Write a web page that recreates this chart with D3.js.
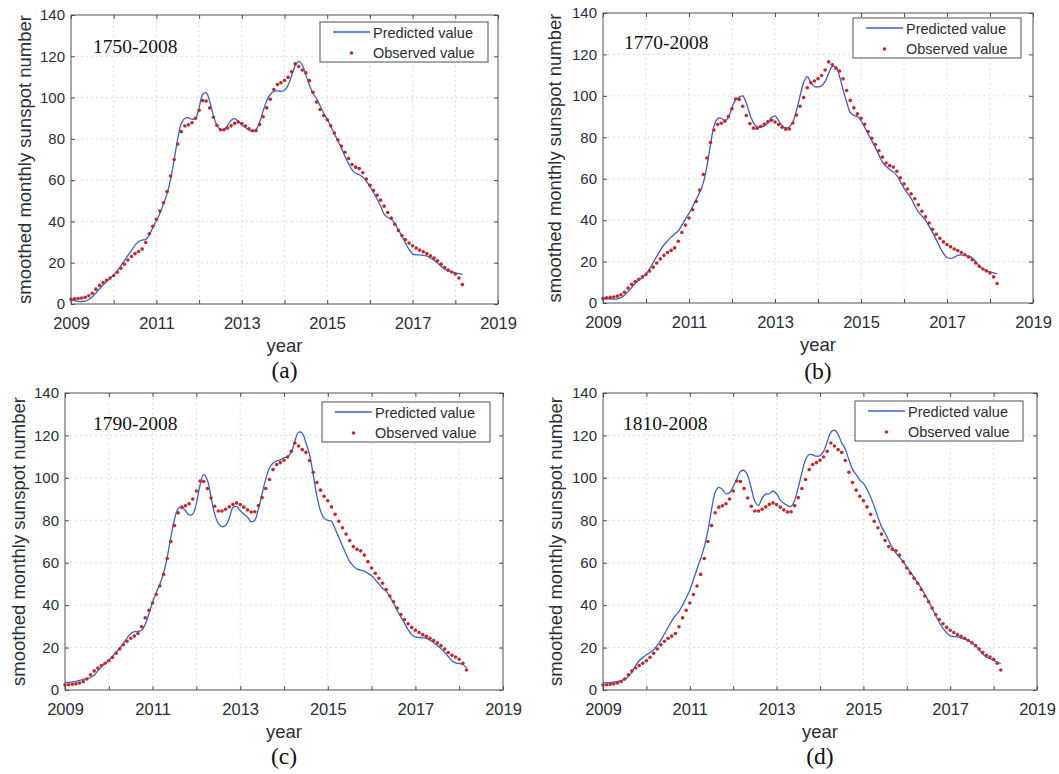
<!DOCTYPE html>
<html>
<head>
<meta charset="utf-8">
<script src="https://cdn.jsdelivr.net/npm/d3@7"></script>
<style>
  html, body { margin: 0; padding: 0; background: #ffffff; }
  svg { display: block; }
  .sans { font-family: Arial, "Liberation Sans", Helvetica, sans-serif; }
  .serif { font-family: "Times New Roman", "Liberation Serif", serif; }
</style>
</head>
<body>
<svg id="fig" width="1059" height="774"></svg>
<script>
// ---- data -------------------------------------------------------------
// monthly values, first point = January 2009
const startYear = 2009;
const yearTicks = [2009, 2010, 2011, 2012, 2013, 2014, 2015, 2016, 2017, 2018, 2019];
const yearLabels = [2009, 2011, 2013, 2015, 2017, 2019];
const valueTicks = [0, 20, 40, 60, 80, 100, 120, 140];

// 13-month smoothed monthly sunspot number (observed)
const observed = [
  2.3, 2.5, 2.7, 2.9, 3.3, 4.0, 5.2, 7.2, 9.0, 10.4, 11.5, 12.6,
  13.8, 15.4, 17.3, 19.3, 21.3, 23.0, 24.4, 25.4, 26.6, 29.8, 34.0, 37.6,
  41.0, 45.0, 49.0, 54.5, 62.0, 70.0, 77.5, 83.5, 86.2, 86.8, 87.8, 90.0,
  93.8, 98.5, 98.3, 95.0, 90.5, 86.6, 84.4, 84.4, 85.2, 86.3, 87.5, 88.2,
  87.4, 86.2, 84.9, 83.9, 84.0, 86.9, 90.7, 95.0, 99.2, 103.9, 106.3, 107.2,
  108.3, 109.8, 112.5, 116.4, 115.0, 113.3, 112.0, 108.2, 102.6, 97.8, 94.2, 91.3,
  89.2, 86.3, 82.8, 79.5, 76.5, 73.5, 70.5, 67.6, 66.3, 65.6, 63.6, 60.5,
  57.5, 55.0, 52.7, 50.3, 47.4, 44.3, 41.6, 38.6, 35.6, 33.2, 31.2, 29.5,
  28.2, 27.1, 26.1, 25.3, 24.4, 23.3, 22.2, 20.9, 19.3, 17.7, 16.4, 15.5,
  14.5, 12.6, 9.4
];

// predictions trained on 1750-2008
const predicted1750 = [
  2.0, 1.6, 1.3, 1.2, 1.4, 2.2, 3.5, 5.3, 7.3, 9.2, 10.9, 12.4,
  14.0, 16.0, 18.5, 21.0, 23.5, 26.0, 28.5, 30.3, 31.0, 31.2, 33.5, 37.0,
  40.3, 44.0, 48.5, 53.5, 60.5, 70.0, 80.0, 87.5, 90.0, 90.2, 89.5, 90.0,
  95.0, 101.5, 102.3, 98.0, 91.5, 86.5, 84.5, 84.5, 86.5, 89.0, 89.8, 88.5,
  86.8, 85.5, 84.3, 83.6, 84.5, 88.0, 93.5, 98.5, 101.5, 103.0, 103.2, 103.0,
  103.5, 106.0, 110.5, 115.5, 117.5, 115.8, 111.0, 106.0, 102.0, 99.5, 96.0, 92.5,
  89.5, 86.0, 82.5, 79.0, 75.5, 71.5, 68.0, 65.0, 63.3, 62.6, 61.5, 59.5,
  57.0, 54.0, 51.0, 47.5, 43.5, 42.0, 41.0, 39.0, 36.0, 33.0, 29.5, 26.5,
  24.3, 23.8, 23.8, 23.6, 23.2, 22.3, 21.2, 19.8, 18.3, 17.0, 16.2, 15.6,
  15.1, 14.7, 14.4
];

// predictions trained on 1770-2008
const predicted1770 = [
  2.0, 2.0, 1.9, 1.9, 2.0, 2.6, 3.8, 5.5, 7.5, 9.4, 11.0, 12.5,
  14.0, 16.5, 19.5, 22.5, 25.5, 28.0, 30.0, 31.8, 33.3, 34.8, 37.5, 40.5,
  43.3, 46.5, 50.0, 53.5, 58.0, 66.0, 76.5, 85.5, 89.0, 89.3, 88.0, 89.5,
  94.5, 98.0, 99.3, 100.0, 96.5, 91.0, 87.0, 85.0, 84.8, 85.5, 87.0, 89.5,
  90.3, 88.0, 85.5, 84.5, 85.0, 87.5, 93.0, 100.0, 106.5, 109.3, 106.5, 104.5,
  104.3, 104.8, 107.0, 111.0, 114.2, 114.0, 109.5, 103.0, 97.0, 92.0, 90.5, 90.0,
  88.0, 85.0, 81.5, 78.5, 75.0, 71.5, 68.0, 66.0, 64.5, 63.3, 61.5, 58.5,
  55.5, 53.0, 50.5, 47.0, 44.0, 42.0, 40.0, 37.0, 34.0, 30.5, 27.0, 24.0,
  22.0, 21.5, 22.0, 23.0, 23.2, 23.0, 22.6, 21.8, 20.0, 18.0, 16.5, 15.5,
  15.0, 14.5, 14.0
];

// predictions trained on 1790-2008
const predicted1790 = [
  3.5, 3.6, 3.8, 4.1, 4.5, 5.0, 5.4, 5.9, 7.0, 9.0, 11.0, 12.6,
  14.0, 15.8, 17.8, 19.8, 22.0, 24.5, 26.6, 27.5, 27.6, 28.2, 31.0, 36.0,
  41.5, 46.0, 50.0, 55.0, 62.5, 72.0, 80.5, 85.5, 86.3, 84.5, 82.5, 83.0,
  88.0, 96.5, 101.5, 99.0, 91.0, 83.0, 78.5, 77.0, 77.5, 81.0, 86.0, 86.5,
  84.5, 83.0, 81.5, 79.3, 80.0, 85.5, 92.5, 99.5, 104.5, 107.0, 108.0, 108.5,
  109.5, 110.0, 112.0, 117.5, 121.5, 121.0, 116.5, 111.0, 101.5, 91.5, 84.5, 81.0,
  80.0, 79.5, 76.0, 72.0, 68.0, 64.0, 60.5, 58.5, 57.0, 56.5, 56.0, 55.0,
  53.8, 52.0, 50.0, 48.0, 46.5, 44.0, 41.0, 37.5, 34.5, 31.5, 28.5, 26.0,
  25.0, 24.8, 24.6, 24.3, 23.5, 22.3, 21.0, 19.5, 17.8, 15.8, 13.8, 12.8,
  12.5, 12.0, 10.5
];

// predictions trained on 1810-2008
const predicted1810 = [
  3.5, 3.5, 3.6, 3.8, 4.0, 4.4, 5.0, 6.3, 8.5, 11.5, 13.8, 15.3,
  16.5, 17.7, 19.0, 21.0, 23.5, 26.5, 29.5, 32.5, 35.0, 37.0, 40.0, 43.5,
  47.0, 52.0, 57.0, 62.0, 67.5, 75.0, 85.0, 93.0, 95.5, 94.5, 92.5, 93.0,
  96.0, 99.5, 103.0, 103.5, 101.0, 95.0, 89.0, 87.0, 90.5, 92.3, 92.5, 93.8,
  92.5, 89.5, 88.0, 87.0, 86.5, 89.5, 95.5, 102.5, 108.5, 111.0, 110.8, 110.2,
  110.5, 112.5, 117.0, 121.5, 122.5, 120.5, 116.5, 113.5, 108.5, 104.0, 101.5, 99.0,
  97.5, 94.5, 91.0, 86.5, 81.5, 77.0, 74.0, 70.5, 67.0, 64.5, 62.5, 60.5,
  58.0, 55.5, 53.0, 50.5, 48.0, 45.0, 42.0, 38.5, 35.0, 31.8, 29.0, 27.0,
  25.5, 25.2, 25.0, 24.5, 24.0, 23.3, 22.3, 21.0, 19.0, 17.0, 15.5, 14.8,
  14.0, 13.2, 12.5
];

const panelTitles = ["1750-2008", "1770-2008", "1790-2008", "1810-2008"];
const panelTags = ["(a)", "(b)", "(c)", "(d)"];
const legendLabels = ["Predicted value", "Observed value"];
const xTitle = "year";
const yTitle = "smoothed monthly sunspot number";

// ---- layout & style ---------------------------------------------------
const panels = [
  { pred: predicted1750, box: [71, 498, 15, 304],  legend: [320, 22],  title: [93, 52.5],  ylab: 31,  tagY: 377.5, line: "#3a62d2" },
  { pred: predicted1770, box: [603, 1033, 13, 303], legend: [853, 18], title: [624, 48.5], ylab: 561, tagY: 378.5, line: "#4656cc" },
  { pred: predicted1790, box: [65, 503, 393, 690],  legend: [322, 402], title: [93, 430],  ylab: 25,  tagY: 763.5, line: "#3a62d2" },
  { pred: predicted1810, box: [603, 1037, 393, 690], legend: [855, 401], title: [623, 430], ylab: 562, tagY: 763.5, line: "#3a62d2" }
];

const axisColor = "#4b505a";
const textColor = "#2a2e36";
const gridColor = "#d9dee6";
const dotColor = "#bf2a2c";

const svg = d3.select("#fig");

const monthToYear = i => startYear + i / 12;

panels.forEach((p, k) => {
  const [x0, x1, y0, y1] = p.box;
  const x = d3.scaleLinear().domain([2009, 2019]).range([x0, x1]);
  const y = d3.scaleLinear().domain([0, 140]).range([y1, y0]);
  const g = svg.append("g");

  // grid
  g.append("g").selectAll("line").data(yearTicks.slice(1, -1)).join("line")
    .attr("x1", d => x(d)).attr("x2", d => x(d)).attr("y1", y0).attr("y2", y1)
    .attr("stroke", gridColor).attr("stroke-width", 1).attr("stroke-dasharray", "2,3");
  g.append("g").selectAll("line").data(valueTicks.slice(1, -1)).join("line")
    .attr("x1", x0).attr("x2", x1).attr("y1", d => y(d)).attr("y2", d => y(d))
    .attr("stroke", gridColor).attr("stroke-width", 1).attr("stroke-dasharray", "2,3");

  // predicted line
  const lineGen = d3.line()
    .x((d, i) => x(monthToYear(i)))
    .y(d => y(d))
    .curve(d3.curveCatmullRom.alpha(0.5));
  g.append("path").datum(p.pred)
    .attr("d", lineGen)
    .attr("fill", "none").attr("stroke", p.line).attr("stroke-width", 1.3);

  // observed dots
  g.append("g").selectAll("circle").data(observed).join("circle")
    .attr("cx", (d, i) => x(monthToYear(i)))
    .attr("cy", d => y(d))
    .attr("r", 1.8)
    .attr("fill", dotColor);

  // axes (ticks point inward)
  const fmtYear = d => yearLabels.includes(d) ? String(d) : "";
  const bottom = g.append("g").attr("transform", `translate(0,${y1})`)
    .call(d3.axisBottom(x).tickValues(yearTicks).tickFormat(fmtYear)
      .tickSizeInner(-4).tickSizeOuter(0).tickPadding(12.8));
  const top = g.append("g").attr("transform", `translate(0,${y0})`)
    .call(d3.axisTop(x).tickValues(yearTicks).tickFormat("")
      .tickSizeInner(-4).tickSizeOuter(0));
  const left = g.append("g").attr("transform", `translate(${x0},0)`)
    .call(d3.axisLeft(y).tickValues(valueTicks)
      .tickSizeInner(-4).tickSizeOuter(0).tickPadding(6));
  const right = g.append("g").attr("transform", `translate(${x1},0)`)
    .call(d3.axisRight(y).tickValues(valueTicks).tickFormat("")
      .tickSizeInner(-4).tickSizeOuter(0));
  [bottom, top, left, right].forEach(a => {
    a.select(".domain").remove();
    a.selectAll("line").attr("stroke", axisColor);
    a.selectAll("text").attr("fill", textColor).attr("class", "sans");
  });
  bottom.selectAll("text").attr("font-size", 16.5);
  left.selectAll("text").attr("font-size", 15);

  // frame
  g.append("rect")
    .attr("x", x0).attr("y", y0).attr("width", x1 - x0).attr("height", y1 - y0)
    .attr("fill", "none").attr("stroke", axisColor).attr("stroke-width", 1);

  // training period label
  g.append("text").attr("class", "serif")
    .attr("x", p.title[0]).attr("y", p.title[1])
    .attr("font-size", 19.5).attr("fill", "#111")
    .text(panelTitles[k]);

  // legend
  const [lx, ly] = p.legend;
  const lg = g.append("g").attr("transform", `translate(${lx},${ly})`);
  lg.append("rect").attr("width", 168).attr("height", 40)
    .attr("fill", "#fff").attr("stroke", axisColor).attr("stroke-width", 1);
  lg.append("line").attr("x1", 13).attr("x2", 50).attr("y1", 10).attr("y2", 10)
    .attr("stroke", p.line).attr("stroke-width", 1.3);
  lg.append("circle").attr("cx", 31.5).attr("cy", 31).attr("r", 1.8).attr("fill", dotColor);
  lg.selectAll("text").data(legendLabels).join("text")
    .attr("class", "sans")
    .attr("x", 53).attr("y", (d, i) => 15.5 + i * 20)
    .attr("font-size", 14.5).attr("fill", textColor)
    .text(d => d);

  // axis titles
  const cx = (x0 + x1) / 2;
  g.append("text").attr("class", "sans")
    .attr("x", cx).attr("y", y1 + 47.5)
    .attr("text-anchor", "middle").attr("font-size", 18.5).attr("fill", textColor)
    .text(xTitle);
  g.append("text").attr("class", "sans")
    .attr("transform", `translate(${p.ylab},${(y0 + y1) / 2}) rotate(-90)`)
    .attr("text-anchor", "middle").attr("font-size", 18.5).attr("fill", textColor)
    .text(yTitle);

  // panel tag
  g.append("text").attr("class", "serif")
    .attr("x", cx).attr("y", p.tagY)
    .attr("text-anchor", "middle").attr("font-size", 23.5).attr("fill", "#111")
    .text(panelTags[k]);
});
</script>
</body>
</html>
